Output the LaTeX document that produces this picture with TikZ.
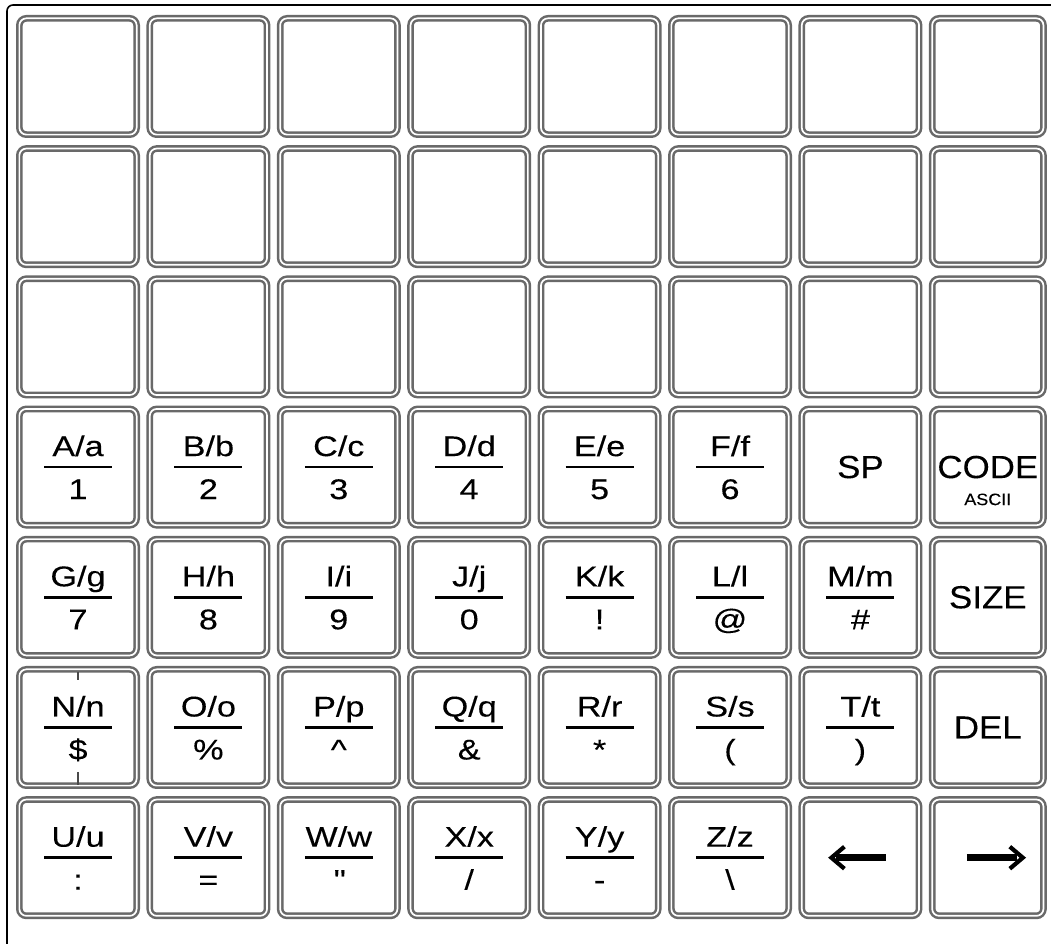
\documentclass[tikz,border=0pt]{standalone}
\usepackage{fontspec}
\setmainfont{Liberation Sans}
\newfontfamily\fracfont{Liberation Sans}[FakeStretch=1.2,FakeBold=0.15]
\newfontfamily\wordfont{Liberation Sans}[FakeStretch=1.09,FakeBold=0.15]
\definecolor{keygray}{RGB}{105,105,105}
\newcommand\frackey[4]{%
  \node[lab] (t-#1-#2) at ([yshift=11pt]k-#1-#2.center) {#3};
  \node[lab] (b-#1-#2) at ([yshift=-32pt]k-#1-#2.center) {#4};
  \draw[bar] ([xshift=-34pt]k-#1-#2.center) -- ([xshift=34pt]k-#1-#2.center);
}
\begin{document}
\begin{tikzpicture}[x=1pt,y=1pt,
  keybox/.style={draw=keygray, line width=2.5pt, double=white, double distance=1.7pt,
    rounded corners=7pt, rectangle, inner sep=0pt},
  lab/.style={font=\fracfont\fontsize{28.5}{30}\selectfont, inner sep=0pt, anchor=base},
  big/.style={font=\wordfont\fontsize{32}{34}\selectfont, inner sep=0pt, anchor=base},
  small/.style={font=\wordfont\fontsize{16.5}{18}\selectfont, inner sep=0pt, anchor=base},
  bar/.style={line width=2.8pt},
  frame/.style={draw=black, line width=1.6pt, rounded corners=6pt},
  arrowshaft/.style={line width=6.5pt},
  arrowhead/.style={line width=4.2pt, line join=miter}]
\useasboundingbox (0,0) rectangle (1051,944);
\draw[frame] (1070,939) -- (7,939) -- (7,-20);
% keys
\foreach \j in {0,...,6} {
  \foreach \i in {0,...,7} {
    \pgfmathsetmacro\w{\i==7 ? 118 : 124}
    \pgfmathsetmacro\mw{\w-6.7}
    \pgfmathsetmacro\cx{16+130.4*\i+\w/2}
    \pgfmathsetmacro\cy{944-(15+130.2*\j+61.5)}
    \node[keybox, minimum width=\mw pt, minimum height=116.3pt] (k-\j-\i) at (\cx,\cy) {};
  }
}
% row 4
\frackey{3}{0}{A/a}{1}
\frackey{3}{1}{B/b}{2}
\frackey{3}{2}{C/c}{3}
\frackey{3}{3}{D/d}{4}
\frackey{3}{4}{E/e}{5}
\frackey{3}{5}{F/f}{6}
\node[big] (sp) at ([yshift=-11pt]k-3-6.center) {SP};
\node[big] (code) at ([yshift=-11pt]k-3-7.center) {CODE};
\node[small] (ascii) at ([yshift=-38pt]k-3-7.center) {ASCII};
% row 5
\frackey{4}{0}{G/g}{7}
\frackey{4}{1}{H/h}{8}
\frackey{4}{2}{I/i}{9}
\frackey{4}{3}{J/j}{0}
\frackey{4}{4}{K/k}{!}
\frackey{4}{5}{L/l}{@}
\frackey{4}{6}{M/m}{\#}
\node[big] (size) at ([yshift=-11pt]k-4-7.center) {SIZE};
% row 6
\frackey{5}{0}{N/n}{\$}
\frackey{5}{1}{O/o}{\%}
\frackey{5}{2}{P/p}{\textasciicircum}
\frackey{5}{3}{Q/q}{\&}
\frackey{5}{4}{R/r}{*}
\frackey{5}{5}{S/s}{(}
\frackey{5}{6}{T/t}{)}
\node[big] (del) at ([yshift=-11pt]k-5-7.center) {DEL};
\draw[line width=1.2pt, keygray!70!black] ([yshift=47.5pt]k-5-0.center) -- ([yshift=55.5pt]k-5-0.center);
\draw[line width=1.2pt, keygray!70!black] ([yshift=-44.5pt]k-5-0.center) -- ([yshift=-57.5pt]k-5-0.center);
% row 7
\frackey{6}{0}{U/u}{:}
\frackey{6}{1}{V/v}{=}
\frackey{6}{2}{W/w}{\textquotedbl}
\frackey{6}{3}{X/x}{/}
\frackey{6}{4}{Y/y}{-}
\frackey{6}{5}{Z/z}{\textbackslash}
% arrows
\draw[arrowshaft] ([xshift=-24pt]k-6-6.center) -- ([xshift=26pt]k-6-6.center);
\draw[arrowhead] ([xshift=-16pt,yshift=11pt]k-6-6.center) -- ([xshift=-29pt]k-6-6.center) -- ([xshift=-16pt,yshift=-11pt]k-6-6.center);
\draw[arrowshaft] ([xshift=-21pt]k-6-7.center) -- ([xshift=29pt]k-6-7.center);
\draw[arrowhead] ([xshift=22pt,yshift=11pt]k-6-7.center) -- ([xshift=35pt]k-6-7.center) -- ([xshift=22pt,yshift=-11pt]k-6-7.center);
\end{tikzpicture}
\end{document}
